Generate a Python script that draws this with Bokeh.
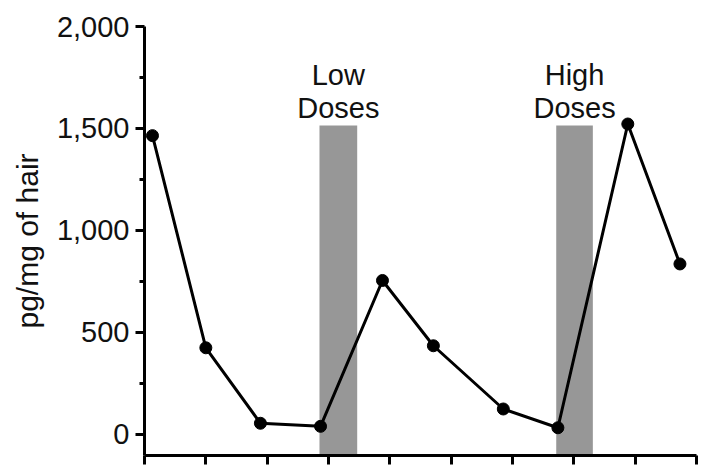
from bokeh.plotting import figure
from bokeh.models import Range1d, FixedTicker, NumeralTickFormatter, ColumnDataSource
from bokeh.core.properties import value
from bokeh.embed import file_html
from bokeh.resources import INLINE

# Data
sample_x = [0.13, 1.0, 1.89, 2.87, 3.88, 4.71, 5.85, 6.74, 7.88, 8.73]
conc_pg_mg = [1465, 425, 55, 40, 755, 435, 125, 33, 1522, 836]

dose_labels = ["Low\nDoses", "High\nDoses"]
dose_start = [2.853, 6.713]
dose_end = [3.468, 7.31]
dose_top = [1515, 1515]

y_ticks = [0, 500, 1000, 1500, 2000]
y_minor = [250, 750, 1250, 1750]
x_ticks = list(range(10))
y_title = "pg/mg of hair"

FONT = "Liberation Sans"

y_lo, y_hi = -103, 2000
p = figure(width=701, height=471, output_backend="svg", toolbar_location=None,
           x_range=Range1d(0, 9), y_range=Range1d(y_lo, y_hi),
           min_border_left=144, min_border_right=5, min_border_top=26,
           min_border_bottom=16)
p.outline_line_color = None
p.xgrid.visible = False
p.ygrid.visible = False
p.background_fill_color = "white"
p.border_fill_color = "white"

bars = ColumnDataSource(dict(left=dose_start, right=dose_end, top=dose_top,
                             bottom=[y_lo] * len(dose_start),
                             cx=[(a + b) / 2 for a, b in zip(dose_start, dose_end)],
                             label=dose_labels))
p.quad(left="left", right="right", bottom="bottom", top="top", source=bars,
       fill_color="#979797", line_color=None)
p.text(x="cx", y="top", text="label", source=bars, text_align="center",
       text_baseline="bottom", text_font=value(FONT), text_font_size="29px",
       text_color="#111111", text_line_height=1.03, y_offset=-1)

p.line(sample_x, conc_pg_mg, line_color="black", line_width=3)
p.scatter(sample_x, conc_pg_mg, size=12, fill_color="black", line_color="black")

ya = p.yaxis[0]
ya.ticker = FixedTicker(ticks=y_ticks, minor_ticks=y_minor)
ya.formatter = NumeralTickFormatter(format="0,0")
ya.major_label_text_font = FONT
ya.major_label_text_font_size = "29px"
ya.major_label_text_color = "#111111"
ya.major_label_standoff = 6
ya.axis_label = y_title
ya.axis_label_text_font = FONT
ya.axis_label_text_font_style = "normal"
ya.axis_label_text_font_size = "30px"
ya.axis_label_text_color = "#111111"
ya.axis_label_standoff = 10

xa = p.xaxis[0]
xa.ticker = FixedTicker(ticks=[], minor_ticks=x_ticks)

for ax in (xa, ya):
    ax.axis_line_color = "black"
    ax.axis_line_width = 3
    ax.major_tick_line_color = "black"
    ax.major_tick_line_width = 3
    ax.major_tick_in = 0
    ax.major_tick_out = 9
    ax.minor_tick_line_color = "black"
    ax.minor_tick_line_width = 3
    ax.minor_tick_in = 0
    ax.minor_tick_out = 5
xa.minor_tick_out = 9

open("out.html", "w").write(file_html(p, INLINE))
